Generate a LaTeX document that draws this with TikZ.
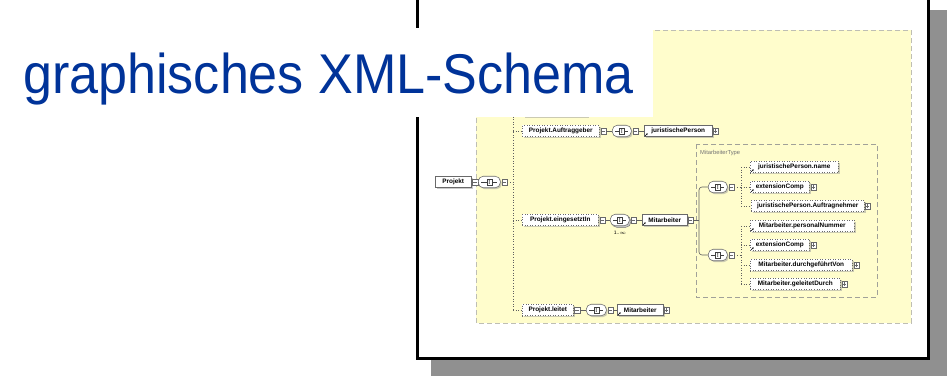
\documentclass[tikz,border=0pt]{standalone}
\usepackage{fontspec}
\usetikzlibrary{shadows,arrows.meta,calc}
\newfontfamily\headfont{Liberation Sans}
\newfontfamily\boxfont{Liberation Sans}
\definecolor{titleblue}{RGB}{0,51,153}
\definecolor{paneyellow}{RGB}{255,253,204}
\definecolor{paneedge}{RGB}{190,190,180}
\definecolor{boxedge}{RGB}{105,105,105}
\definecolor{wire}{RGB}{95,95,95}
\definecolor{slideshadow}{RGB}{144,144,144}

\tikzset{
  lbl/.style={font=\boxfont\bfseries\fontsize{6.4}{7}\selectfont},
  elem/.style={lbl, draw=boxedge, fill=white, line width=0.55pt, minimum height=11.5pt,
    inner sep=1pt, anchor=west,
    drop shadow={shadow xshift=1.4pt, shadow yshift=-1.4pt, fill=black!40}},
  optelem/.style={elem, dotted},
  pmbox/.style={draw=boxedge, fill=white, line width=0.4pt, minimum width=5.5pt,
    minimum height=6pt, inner sep=0pt, anchor=west},
  minus/.style={pmbox, path picture={
    \draw[line width=0.4pt,boxedge] ([xshift=1pt]path picture bounding box.west)
      -- ([xshift=-1pt]path picture bounding box.east);}},
  plus/.style={pmbox, path picture={
    \draw[line width=0.4pt,boxedge] ([xshift=1pt]path picture bounding box.west)
      -- ([xshift=-1pt]path picture bounding box.east)
      ([yshift=1pt]path picture bounding box.south)
      -- ([yshift=-1pt]path picture bounding box.north);}},
  comp/.style={draw=boxedge, fill=white, rounded corners=5pt, minimum height=11.5pt,
    inner sep=0pt, line width=0.55pt, anchor=west,
    drop shadow={shadow xshift=1.4pt, shadow yshift=-1.4pt, fill=black!40},
    path picture={
      \draw[line width=0.5pt, black!75] ([xshift=3pt]path picture bounding box.west)
        -- ([xshift=-3pt]path picture bounding box.east);
      \draw[line width=0.4pt, black!75, fill=white, rounded corners=0pt]
        ($(path picture bounding box.center)+(-2.5pt,-2.7pt)$) rectangle
        ($(path picture bounding box.center)+(2.5pt,2.7pt)$);
      \fill[black!80] ($(path picture bounding box.center)+(0,1.4pt)$) circle (0.55pt)
        (path picture bounding box.center) circle (0.55pt)
        ($(path picture bounding box.center)+(0,-1.4pt)$) circle (0.55pt);}},
  compback/.style={draw=boxedge, fill=white, rounded corners=5pt, minimum height=11.5pt,
    inner sep=0pt, line width=0.5pt, anchor=west},
  wire/.style={draw=wire, line width=0.6pt},
  optwire/.style={wire, dotted},
  refmark/.style={draw=black, line width=0.5pt, -{Stealth[length=1.6pt,width=1.6pt]}},
}

\newcommand{\refarrow}[1]{\draw[refmark] ([shift={(1pt,1pt)}]#1.south west) -- ++(2.6pt,2.6pt);}

\begin{document}
\begin{tikzpicture}[x=1pt,y=-1pt]
\useasboundingbox (0,0) rectangle (947,380);
\fill[white] (0,0) rectangle (947,380);

% slide shadow and frame
\fill[slideshadow] (431,10) rectangle (947,376);
\draw[line width=3pt, fill=white] (417,-8) rectangle (928,358);

% schema pane
\draw[paneedge, fill=paneyellow, dashed, dash pattern=on 5pt off 3pt, line width=0.6pt]
  (476,30) rectangle (911,323);

% spine of the Projekt sequence
\coordinate (spine) at (513,114);
\coordinate (spineend) at (513,310);
\draw[optwire] (spine) -- (spineend);

% root element
\node[elem, minimum width=36pt] (prj) at (435,182) {Projekt};
\node[minus] (prjm) at ([xshift=0.5pt]prj.east) {};
\node[comp, minimum width=22pt] (prjc) at (478,182) {};
\node[minus] (prjs) at ([xshift=1pt]prjc.east) {};
\draw[wire] (prjm.east) -- (prjc.west);
\draw[optwire] (prjs.east) -- (prjs.east -| spine);

% element above Auftraggeber
\node[optelem, minimum width=64pt] (hid) at (523,111) {};
\draw[optwire] (hid.west -| spine) -- (hid.west);

% Projekt.Auftraggeber
\node[optelem, minimum width=77pt] (auf) at (522,131) {Projekt.Auftraggeber};
\node[minus] (aufm) at ([xshift=1pt]auf.east) {};
\node[comp, minimum width=19pt] (aufc) at (612,131) {};
\node[minus] (aufs) at ([xshift=1pt]aufc.east) {};
\node[elem, minimum width=68pt] (jp) at (644,131) {juristischePerson};
\node[plus] (jpp) at (jp.east) {};
\refarrow{jp}
\draw[optwire] (auf.west -| spine) -- (auf.west);
\draw[wire] (aufm.east) -- (aufc.west);
\draw[wire] (aufs.east) -- (jp.west);

% Projekt.eingesetztIn
\node[optelem, minimum width=76pt] (ein) at (522,220) {Projekt.eingesetztIn};
\node[minus] (einm) at ([xshift=1pt]ein.east) {};
\node[compback, minimum width=19pt] (eincb) at (611.5,221.5) {};
\node[comp, minimum width=19pt] (einc) at (610,220) {};
\node[minus] (eins) at ([xshift=1pt]einc.east) {};
\node[lbl, font=\boxfont\fontsize{5}{6}\selectfont, inner sep=0pt] (einr) at (620,233) {1..$\infty$};
\node[elem, minimum width=45pt] (mit1) at (642,220) {Mitarbeiter};
\node[minus] (mit1m) at (mit1.east) {};
\refarrow{mit1}
\draw[optwire] (ein.west -| spine) -- (ein.west);
\draw[wire] (einm.east) -- (einc.west);
\draw[wire] (eins.east) -- (mit1.west);

% Projekt.leitet
\node[optelem, minimum width=51pt] (lei) at (522,310) {Projekt.leitet};
\node[minus] (leim) at ([xshift=0.5pt]lei.east) {};
\node[comp, minimum width=20pt] (leic) at (586,310) {};
\node[minus] (leis) at ([xshift=1pt]leic.east) {};
\node[elem, minimum width=46pt] (mit2) at (617,310) {Mitarbeiter};
\node[plus] (mit2p) at (mit2.east) {};
\refarrow{mit2}
\draw[optwire] (lei.west -| spine) -- (lei.west);
\draw[wire] (leim.east) -- (leic.west);
\draw[wire] (leis.east) -- (mit2.west);

% MitarbeiterType
\draw[paneedge!85!black, dashed, dash pattern=on 5pt off 3pt, line width=0.6pt]
  (696,144) rectangle (877,297);
\node[anchor=west, inner sep=0pt, text=black!55, font=\boxfont\fontsize{5.8}{6}\selectfont]
  (mtype) at (700,153) {MitarbeiterType};

\node[comp, minimum width=19pt] (c1) at (708,187) {};
\node[minus] (c1s) at ([xshift=1pt]c1.east) {};
\node[comp, minimum width=19pt] (c2) at (708,255) {};
\node[minus] (c2s) at ([xshift=1pt]c2.east) {};
\coordinate (branch) at (699,220);
\draw[wire] (mit1m.east) -- (branch);
\draw[wire, rounded corners=3pt] (c1.west) -| (branch) |- (c2.west);

\coordinate (g1) at (741,167);
\coordinate (g2) at (741,226);

\node[optelem, minimum width=88pt] (ch1) at (750,167) {juristischePerson.name};
\refarrow{ch1}
\node[optelem, minimum width=59pt] (ch2) at (750,187) {extensionComp};
\node[plus] (ch2p) at ([xshift=1pt]ch2.east) {};
\refarrow{ch2}
\node[optelem, minimum width=113pt] (ch3) at (751,206) {juristischePerson.Auftragnehmer};
\node[plus] (ch3p) at (ch3.east) {};
\node[optelem, minimum width=104pt] (ch4) at (750,226) {Mitarbeiter.personalNummer};
\refarrow{ch4}
\node[optelem, minimum width=59pt] (ch5) at (750,245) {extensionComp};
\node[plus] (ch5p) at ([xshift=1pt]ch5.east) {};
\refarrow{ch5}
\node[optelem, minimum width=102pt] (ch6) at (750,265) {Mitarbeiter.durchgeführtVon};
\node[plus] (ch6p) at ([xshift=1pt]ch6.east) {};
\node[optelem, minimum width=90pt] (ch7) at (750,284) {Mitarbeiter.geleitetDurch};
\node[plus] (ch7p) at ([xshift=1pt]ch7.east) {};

\draw[optwire] (c1s.east) -- (c1s.east -| g1);
\draw[optwire] (ch1.west -| g1) -- (ch3.west -| g1);
\foreach \c in {ch1,ch2,ch3} {\draw[optwire] (\c.west -| g1) -- (\c.west);}
\draw[optwire] (c2s.east) -- (c2s.east -| g2);
\draw[optwire] (ch4.west -| g2) -- (ch7.west -| g2);
\foreach \c in {ch4,ch5,ch6,ch7} {\draw[optwire] (\c.west -| g2) -- (\c.west);}

% title panel
\fill[white] (0,28) rectangle (653,117);
\node[anchor=base west, inner sep=0pt, text=titleblue,
  font=\headfont\fontsize{56}{60}\selectfont] (title) at (23,93)
  {\scalebox{0.93}[1]{graphisches XML-Schema}};
\end{tikzpicture}
\end{document}
